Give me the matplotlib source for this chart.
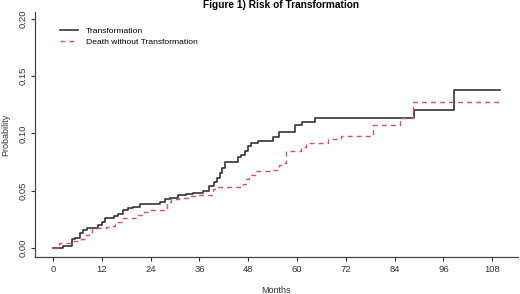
import numpy as np
import matplotlib
matplotlib.use("Agg")
import matplotlib.pyplot as plt

plt.rcParams['font.family'] = ['Liberation Sans', 'DejaVu Sans']

# cumulative incidence, step points (months, probability)
trans_t = [0, 2.5, 4.6, 5.4, 6.6, 7.4, 8.4, 11.1, 12.0, 12.8, 14.9, 16.1, 17.3, 18.5,
           19.8, 21.4, 26.3, 27.5, 28.8, 30.8, 32.8, 34.5, 37.0, 38.3, 39.5, 40.3, 41.0,
           41.6, 42.3, 45.4, 46.2, 47.1, 48.0, 48.8, 50.3, 54.0, 55.5, 59.5, 61.2, 64.4,
           88.8, 98.6, 110]
trans_p = [0, 0.0015, 0.0076, 0.009, 0.013, 0.016, 0.0175, 0.020, 0.023, 0.026, 0.028,
           0.030, 0.033, 0.0345, 0.036, 0.038, 0.040, 0.043, 0.044, 0.046, 0.047, 0.048,
           0.050, 0.054, 0.058, 0.061, 0.065, 0.070, 0.075, 0.079, 0.0815, 0.085, 0.089,
           0.092, 0.093, 0.0965, 0.101, 0.107, 0.110, 0.1135, 0.1205, 0.1375, 0.1375]

death_t = [0, 1.0, 1.6, 4.6, 7.0, 8.0, 8.8, 9.6, 13.1, 14.0, 15.2, 16.0, 17.0, 20.6,
           22.0, 23.6, 28.0, 29.0, 31.0, 34.0, 36.0, 39.3, 40.5, 46.8, 47.5, 48.3, 50.0,
           53.0, 55.6, 56.8, 57.4, 61.0, 62.2, 67.5, 70.9, 78.6, 85.3, 88.6, 110]
death_p = [0, 0.0026, 0.0047, 0.006, 0.0076, 0.011, 0.014, 0.0175, 0.018, 0.019, 0.021,
           0.023, 0.026, 0.0287, 0.031, 0.0335, 0.040, 0.043, 0.044, 0.045, 0.0465,
           0.0515, 0.053, 0.056, 0.060, 0.064, 0.067, 0.068, 0.072, 0.074, 0.085, 0.088,
           0.092, 0.0947, 0.098, 0.107, 0.1137, 0.1278, 0.1278]

xticks = np.arange(0, 109, 12)
yticks = [0.00, 0.05, 0.10, 0.15, 0.20]

fig = plt.figure(figsize=(5.2, 2.94), dpi=100)
ax = fig.add_axes([0.0673, 0.126, 0.9287, 0.833])

ax.plot(trans_t, trans_p, drawstyle='steps-post', color='#333333', lw=1.2,
        label='Transformation')
ax.plot(death_t, death_p, drawstyle='steps-post', color='#d9505e', lw=1.0,
        dashes=(3.5, 3), label='Death without Transformation')

ax.set_xlim(-4.4, 114.3)
ax.set_ylim(-0.0079, 0.206)
ax.set_xticks(xticks)
ax.set_yticks(yticks)
ax.set_yticklabels(['%.2f' % v for v in yticks], rotation=90, va='center')
ax.tick_params(labelsize=6.8, colors='#333333', length=3, width=0.8, pad=2.5)
for s in ['top', 'right']:
    ax.spines[s].set_visible(False)
for s in ['left', 'bottom']:
    ax.spines[s].set_color('#444444')
    ax.spines[s].set_linewidth(0.9)

ax.set_xlabel('Months', fontsize=6.5, color='#333333', labelpad=9)
ax.set_ylabel('Probability', fontsize=6.5, color='#333333', labelpad=6)
fig.text(0.541, 0.982, 'Figure 1) Risk of Transformation', fontsize=7.3,
         fontweight='bold', ha='center', va='center')

ax.legend(loc='upper left', bbox_to_anchor=(0.052, 0.938), frameon=False, fontsize=6.1,
          handlelength=2.15, handletextpad=0.85, labelspacing=0.35,
          borderpad=0, borderaxespad=0)

fig.savefig('out.png', dpi=100)
